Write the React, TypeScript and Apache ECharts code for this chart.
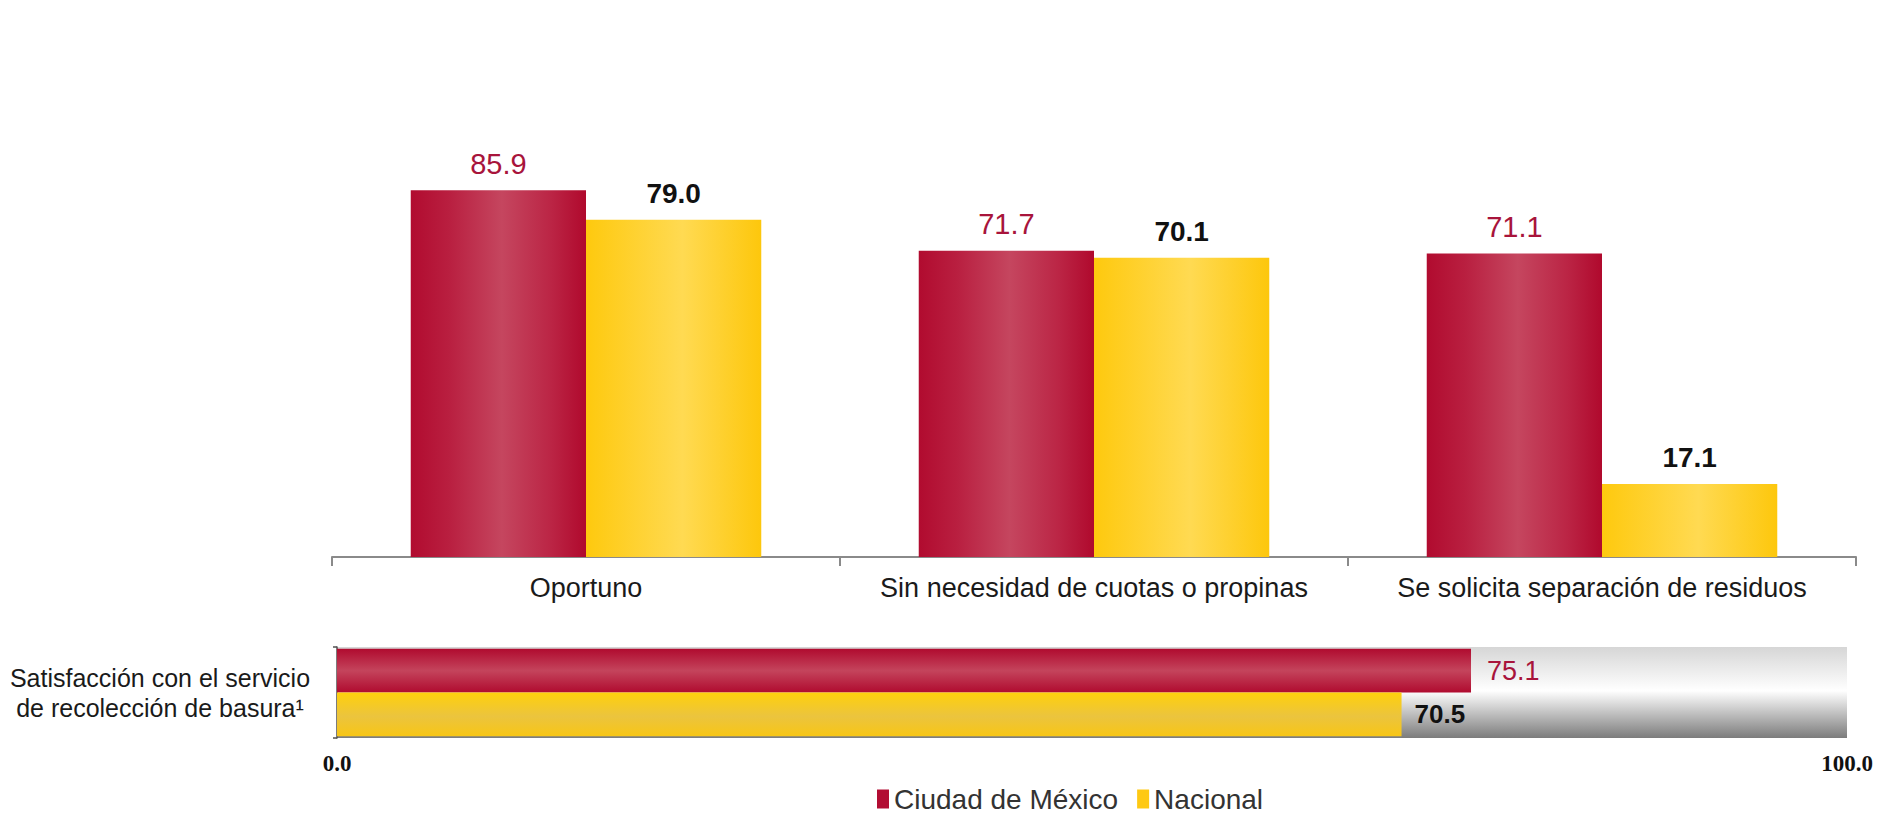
import React, { useEffect, useRef } from "react";
import * as echarts from "echarts";

const categories = ["Oportuno", "Sin necesidad de cuotas o propinas", "Se solicita separación de residuos"];
const cdmxValues = [85.9, 71.7, 71.1];
const nacionalValues = [79.0, 70.1, 17.1];

const satisfCategory = ["Satisfacción con el servicio\nde recolección de basura¹"];
const satisfCdmx = [75.1];
const satisfNacional = [70.5];

const seriesNames = ["Ciudad de México", "Nacional"];
const satisfAxisMin = 0;
const satisfAxisMax = 100;

const SANS = "Liberation Sans, Arial, sans-serif";

export default function App() {
  const ref = useRef<HTMLDivElement>(null);

  useEffect(() => {
    if (!ref.current) return;
    const chart = echarts.init(ref.current, undefined, { renderer: "svg" });

    const redV = new echarts.graphic.LinearGradient(0, 0, 1, 0, [
      { offset: 0, color: "#b10b2f" },
      { offset: 0.22, color: "#b91f40" },
      { offset: 0.52, color: "#c5465f" },
      { offset: 0.8, color: "#bb2545" },
      { offset: 1, color: "#b0092d" },
    ]);
    const yellowV = new echarts.graphic.LinearGradient(0, 0, 1, 0, [
      { offset: 0, color: "#fec90e" },
      { offset: 0.55, color: "#ffda52" },
      { offset: 1, color: "#fdc70c" },
    ]);
    const redH = new echarts.graphic.LinearGradient(0, 0, 0, 1, [
      { offset: 0, color: "#b00b2f" },
      { offset: 0.5, color: "#c4445c" },
      { offset: 1, color: "#b00b2f" },
    ]);
    const yellowH = new echarts.graphic.LinearGradient(0, 0, 0, 1, [
      { offset: 0, color: "#ffd00c" },
      { offset: 0.55, color: "#ebc43e" },
      { offset: 1, color: "#f8c615" },
    ]);
    const bgGrad = new echarts.graphic.LinearGradient(0, 0, 0, 1, [
      { offset: 0, color: "#d6d6d6" },
      { offset: 0.48, color: "#ffffff" },
      { offset: 1, color: "#7c7c7c" },
    ]);

    const fmt = (p: any) => Number(p.value).toFixed(1);

    chart.setOption({
      animation: false,
      backgroundColor: "#ffffff",
      legend: {
        left: 872,
        top: 780,
        itemWidth: 12,
        itemHeight: 19,
        itemGap: 19,
        icon: "rect",
        textStyle: { fontSize: 28, color: "#333333", fontFamily: SANS },
        data: [
          { name: seriesNames[0], itemStyle: { color: "#b20d33" } },
          { name: seriesNames[1], itemStyle: { color: "#fec913" } },
        ],
      },
      grid: [
        { left: 332, right: 22, top: 130, bottom: 256 },
        { left: 337, right: 31, top: 647, bottom: 75, show: true, backgroundColor: bgGrad, borderWidth: 0 },
      ],
      xAxis: [
        {
          type: "category",
          gridIndex: 0,
          data: categories,
          axisLine: { lineStyle: { color: "#8a8a8a", width: 2 } },
          axisTick: { show: true, length: 9, lineStyle: { color: "#8a8a8a", width: 2 } },
          axisLabel: { interval: 0, fontSize: 27, fontFamily: SANS, color: "#1a1a1a", margin: 17 },
        },
        {
          type: "value",
          gridIndex: 1,
          min: satisfAxisMin,
          max: satisfAxisMax,
          interval: 100,
          axisLine: { show: false },
          axisTick: { show: false },
          splitLine: { show: false },
          axisLabel: {
            showMinLabel: true,
            showMaxLabel: true,
            formatter: (v: number) => v.toFixed(1),
            fontSize: 23,
            fontWeight: "bold",
            fontFamily: "Liberation Serif, Times New Roman, serif",
            color: "#111111",
            margin: 14,
          },
        },
      ],
      yAxis: [
        { type: "value", gridIndex: 0, min: 0, max: 100, show: false },
        {
          type: "category",
          gridIndex: 1,
          data: satisfCategory,
          inverse: true,
          axisLine: { lineStyle: { color: "#505050", width: 1.5 } },
          axisTick: { show: true, length: 4, lineStyle: { color: "#505050", width: 1.5 } },
          axisLabel: {
            fontSize: 25,
            lineHeight: 30,
            fontFamily: SANS,
            color: "#1a1a1a",
            align: "center",
            margin: 177,
          },
        },
      ],
      series: [
        {
          name: seriesNames[0],
          type: "bar",
          xAxisIndex: 0,
          yAxisIndex: 0,
          data: cdmxValues,
          barWidth: "34.5%",
          barGap: "0%",
          itemStyle: { color: redV },
          label: {
            show: true,
            position: "top",
            distance: 12,
            formatter: fmt,
            fontSize: 29,
            fontFamily: SANS,
            color: "#a8143b",
          },
        },
        {
          name: seriesNames[1],
          type: "bar",
          xAxisIndex: 0,
          yAxisIndex: 0,
          data: nacionalValues,
          barWidth: "34.5%",
          barGap: "0%",
          itemStyle: { color: yellowV },
          label: {
            show: true,
            position: "top",
            distance: 12,
            formatter: fmt,
            fontSize: 28,
            fontWeight: "bold",
            fontFamily: SANS,
            color: "#111111",
          },
        },
        {
          name: seriesNames[0],
          type: "bar",
          xAxisIndex: 1,
          yAxisIndex: 1,
          data: satisfCdmx,
          barGap: "0%",
          barCategoryGap: "4%",
          itemStyle: { color: redH },
          label: {
            show: true,
            position: "right",
            distance: 16,
            formatter: fmt,
            fontSize: 27,
            fontFamily: SANS,
            color: "#a8143b",
          },
        },
        {
          name: seriesNames[1],
          type: "bar",
          xAxisIndex: 1,
          yAxisIndex: 1,
          data: satisfNacional,
          barGap: "0%",
          barCategoryGap: "4%",
          itemStyle: { color: yellowH },
          label: {
            show: true,
            position: "right",
            distance: 13,
            formatter: fmt,
            fontSize: 26,
            fontWeight: "bold",
            fontFamily: SANS,
            color: "#111111",
          },
        },
      ],
    });

    return () => chart.dispose();
  }, []);

  return (
    <div
      ref={ref}
      style={{ position: "fixed", left: 0, top: 0, width: 1878, height: 813 }}
    />
  );
}
